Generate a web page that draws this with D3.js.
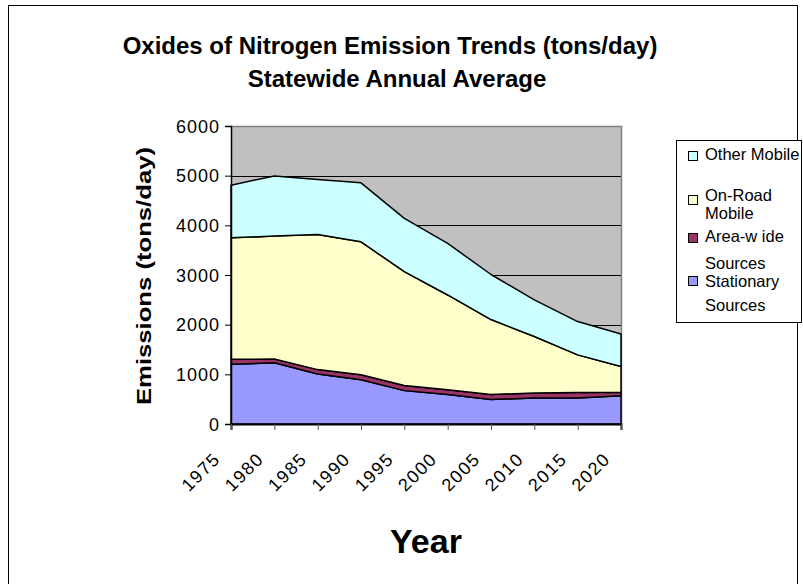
<!DOCTYPE html>
<html>
<head>
<meta charset="utf-8">
<script src="https://cdn.jsdelivr.net/npm/d3@7"></script>
<style>
  html, body { margin: 0; padding: 0; background: #fff; }
  svg { display: block; font-family: "Liberation Sans", Arial, sans-serif; }
</style>
</head>
<body>
<svg id="chart" width="803" height="584"></svg>
<script>
// ---- data ----
const years = [1975, 1980, 1985, 1990, 1995, 2000, 2005, 2010, 2015, 2020];
const stationary  = [1205, 1232, 1005, 890, 672, 592, 495, 522, 522, 569];
const areaWide    = [100, 75, 90, 100, 105, 100, 100, 100, 110, 70];
const onRoad      = [2445, 2476, 2722, 2679, 2290, 1906, 1508, 1139, 760, 519];
const otherMobile = [1058, 1212, 1105, 1186, 1072, 1039, 907, 739, 670, 656];
const yTicks = [0, 1000, 2000, 3000, 4000, 5000, 6000];
const seriesNames = ["Stationary Sources", "Area-wide Sources", "On-Road Mobile", "Other Mobile"];
const seriesColors = ["#9999FF", "#993366", "#FFFFCC", "#CCFFFF"];

const rows = years.map((yr, i) => ({
  year: yr,
  "Stationary Sources": stationary[i],
  "Area-wide Sources": areaWide[i],
  "On-Road Mobile": onRoad[i],
  "Other Mobile": otherMobile[i]
}));

const svg = d3.select("#chart");

// outer border
svg.append("rect").attr("x", 8.5).attr("y", 5.5).attr("width", 789).attr("height", 600)
  .attr("fill", "#fff").attr("stroke", "#000").attr("stroke-width", 1);

const plot = { left: 231, right: 621, top: 126, bottom: 424 };
const x = d3.scalePoint().domain(years).range([plot.left, plot.right]);
const y = d3.scaleLinear().domain([0, 6000]).range([plot.bottom, plot.top]);

// plot background
svg.append("rect").attr("x", plot.left).attr("y", plot.top)
  .attr("width", plot.right - plot.left).attr("height", plot.bottom - plot.top)
  .attr("fill", "#C0C0C0");

// gridlines
svg.append("g").selectAll("line").data(yTicks.filter(d => d > 0 && d < 6000)).join("line")
  .attr("x1", plot.left).attr("x2", plot.right)
  .attr("y1", d => Math.round(y(d)) + 0.5).attr("y2", d => Math.round(y(d)) + 0.5)
  .attr("stroke", "#000").attr("stroke-width", 1);

// plot border top/right
svg.append("path")
  .attr("d", `M${plot.left},${plot.top + 0.5}H${plot.right + 0.5}V${plot.bottom}`)
  .attr("fill", "none").attr("stroke", "#808080").attr("stroke-width", 1.5);

// stacked areas
const stack = d3.stack().keys(seriesNames);
const stacked = stack(rows);
const area = d3.area()
  .x(d => x(d.data.year))
  .y0(d => y(d[0]))
  .y1(d => y(d[1]));
svg.append("g").selectAll("path").data(stacked).join("path")
  .attr("d", area)
  .attr("fill", (d, i) => seriesColors[i])
  .attr("stroke", "#000").attr("stroke-width", 1.5).attr("stroke-linejoin", "round");

// y axis
const yAxis = d3.axisLeft(y).tickValues(yTicks).tickSize(6).tickPadding(5).tickFormat(d3.format("d"));
const gy = svg.append("g").attr("transform", `translate(${plot.left},0)`).call(yAxis);
gy.select(".domain").attr("stroke", "#000").attr("stroke-width", 1.5);
gy.selectAll(".tick line").attr("stroke", "#000");
gy.selectAll("text").attr("font-size", 18).attr("fill", "#000")
  .attr("letter-spacing", "1px").attr("dy", "0.35em");

// x axis
const xAxis = d3.axisBottom(x).tickSize(6).tickPadding(0);
const gx = svg.append("g").attr("transform", `translate(0,${plot.bottom})`).call(xAxis);
gx.select(".domain").attr("stroke", "#000").attr("stroke-width", 2);
gx.selectAll(".tick line").attr("stroke", "#555");
gx.selectAll(".tick text")
  .attr("font-size", 18).attr("fill", "#000")
  .attr("text-anchor", "end")
  .attr("letter-spacing", "1.5px")
  .attr("x", 0).attr("y", 0).attr("dy", 0)
  .attr("transform", "translate(-10,36) rotate(-45)");

// titles
svg.append("text").attr("x", 390).attr("y", 54).attr("text-anchor", "middle")
  .attr("font-size", 24).attr("font-weight", "bold")
  .text("Oxides of Nitrogen Emission Trends (tons/day)");
svg.append("text").attr("x", 397).attr("y", 87).attr("text-anchor", "middle")
  .attr("font-size", 24).attr("font-weight", "bold")
  .text("Statewide Annual Average");

// y axis title
svg.append("text").attr("text-anchor", "middle")
  .attr("transform", "translate(151,276) rotate(-90)")
  .attr("font-size", 21).attr("font-weight", "bold")
  .attr("textLength", 258).attr("lengthAdjust", "spacingAndGlyphs")
  .text("Emissions (tons/day)");

// x axis title
svg.append("text").attr("x", 426).attr("y", 553).attr("text-anchor", "middle")
  .attr("font-size", 34).attr("font-weight", "bold").text("Year");

// legend
const legend = svg.append("g");
legend.append("rect").attr("x", 676.5).attr("y", 140.5).attr("width", 125).attr("height", 182)
  .attr("fill", "#fff").attr("stroke", "#000").attr("stroke-width", 1);
const legendItems = [
  { idx: 3, sw: 151, lines: [["Other Mobile", 160]] },
  { idx: 2, sw: 195, lines: [["On-Road", 201], ["Mobile", 219]] },
  { idx: 1, sw: 233, lines: [["Area-w ide", 242], ["Sources", 269]] },
  { idx: 0, sw: 276, lines: [["Stationary", 287], ["Sources", 311]] }
];
legendItems.forEach(it => {
  legend.append("rect").attr("x", 688.5).attr("y", it.sw + 0.5).attr("width", 9).attr("height", 9)
    .attr("fill", seriesColors[it.idx]).attr("stroke", "#000").attr("stroke-width", 1);
  it.lines.forEach(([t, by]) => {
    legend.append("text").attr("x", 705).attr("y", by).attr("font-size", 16.5).attr("fill", "#000").text(t);
  });
});
</script>
</body>
</html>
